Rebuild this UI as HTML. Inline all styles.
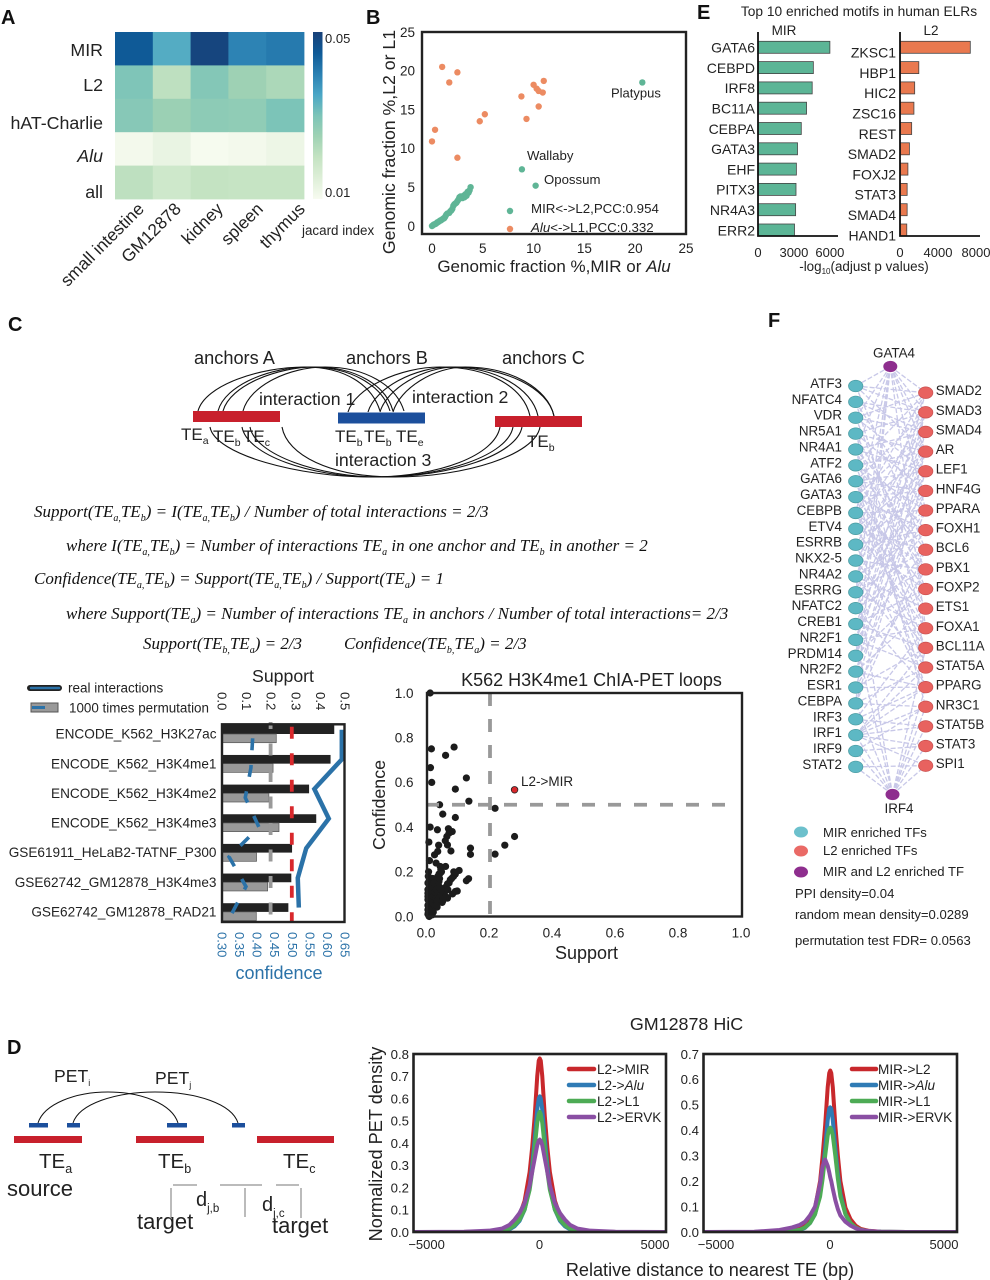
<!DOCTYPE html>
<html lang="en">
<head>
<meta charset="utf-8">
<title>TE interaction figure</title>
<style>
html,body{margin:0;padding:0;background:#fff;width:990px;height:1280px;overflow:hidden}
svg{display:block}
text{font-family:"Liberation Sans",sans-serif;fill:#222}
.serif{font-family:"Liberation Serif",serif;font-style:italic;font-size:17px;fill:#111}
.plabel{font-weight:bold;font-size:20px;fill:#111}
</style>
</head>
<body>
<svg id="fig" xmlns="http://www.w3.org/2000/svg" width="990" height="1280" viewBox="0 0 990 1280">
<defs>
<linearGradient id="cbar" x1="0" y1="1" x2="0" y2="0">
<stop offset="0" stop-color="#f7fbf0"/><stop offset=".125" stop-color="#deefd8"/><stop offset=".25" stop-color="#c4e3c2"/><stop offset=".375" stop-color="#9fd2b4"/><stop offset=".5" stop-color="#7cc4b8"/><stop offset=".625" stop-color="#4aa6c6"/><stop offset=".75" stop-color="#2a80b2"/><stop offset=".875" stop-color="#0f5a97"/><stop offset="1" stop-color="#184078"/>
</linearGradient>
<clipPath id="clipHicL"><rect x="413" y="1054" width="253" height="178"/></clipPath>
<clipPath id="clipHicR"><rect x="703" y="1054" width="254" height="178"/></clipPath>
</defs>
<rect x="0" y="0" width="990" height="1280" fill="#fff"/>

<text class="plabel" x="1" y="24">A</text>
<text class="plabel" x="366" y="24">B</text>
<text class="plabel" x="697" y="19">E</text>
<text class="plabel" x="8" y="331">C</text>
<text class="plabel" x="768" y="327">F</text>
<text class="plabel" x="7" y="1054">D</text>

<!-- Panel A -->
<g id="panelA"></g>
<rect x="313" y="32" width="9.5" height="167" fill="url(#cbar)"/>
<text x="325" y="43" font-size="13">0.05</text>
<text x="325" y="197" font-size="13">0.01</text>
<text x="302" y="235" font-size="13.4">jacard index</text>

<!-- Panel B -->
<g id="panelB"></g>
<text x="611" y="97.5" font-size="13">Platypus</text>
<text x="527" y="160" font-size="13.2">Wallaby</text>
<text x="544" y="184" font-size="13.2">Opossum</text>
<text x="531" y="213" font-size="13.3">MIR&lt;-&gt;L2,PCC:0.954</text>
<text x="531" y="232" font-size="13.3"><tspan font-style="italic">Alu</tspan>&lt;-&gt;L1,PCC:0.332</text>
<text x="554" y="272" font-size="17" text-anchor="middle">Genomic fraction %,MIR or <tspan font-style="italic">Alu</tspan></text>
<text transform="translate(395,142) rotate(-90)" font-size="17.7" text-anchor="middle">Genomic fraction %,L2 or L1</text>

<!-- Panel E -->
<g id="panelE"></g>
<text x="859" y="16" font-size="13.75" text-anchor="middle">Top 10 enriched motifs in human ELRs</text>
<text x="784" y="35" font-size="13.5" text-anchor="middle">MIR</text>
<text x="931" y="35" font-size="13.5" text-anchor="middle">L2</text>
<text x="864" y="271" font-size="13.4" text-anchor="middle">-log<tspan font-size="8" dy="3">10</tspan><tspan dy="-3">(adjust p values)</tspan></text>

<!-- Panel C diagram -->
<g fill="none" stroke="#111" stroke-width="1.1">
<path d="M198 411C205 385 260 367 305 367C345 367 372 385 380 411"/>
<path d="M218 411C225 385 270 367 310 367C350 367 382 385 390 411"/>
<path d="M223 411C230 385 278 367 315 367C355 367 386 385 393 411"/>
<path d="M243 411C250 385 290 367 325 367C365 367 396 385 404 411"/>
<path d="M348 412C355 388 400 367 440 367C490 367 524 388 530 416"/>
<path d="M368 412C375 388 415 367 450 367C495 367 532 388 538 416"/>
<path d="M380 412C387 388 425 367 455 367C505 367 548 388 554 416"/>
<path d="M393 412C400 388 435 367 465 367C510 367 548 388 554 416"/>
<path d="M210 427C215 455 300 477 370 477C440 477 495 455 500 427"/>
<path d="M242 427C247 455 310 477 375 477C445 477 508 455 513 427"/>
<path d="M250 427C255 455 320 477 380 477C450 477 517 455 522 427"/>
<path d="M282 427C287 455 330 477 395 477C465 477 535 455 540 427"/>
</g>
<rect x="193" y="411" width="87" height="11" fill="#c8202c"/>
<rect x="338" y="412.5" width="87" height="11" fill="#1c4f9c"/>
<rect x="495" y="416" width="87" height="11" fill="#c8202c"/>
<g font-size="17.7">
<text x="194" y="364" font-size="18.2">anchors A</text>
<text x="346" y="364" font-size="18.2">anchors B</text>
<text x="502" y="364" font-size="18.2">anchors C</text>
<text x="259" y="405">interaction 1</text>
<text x="412" y="403">interaction 2</text>
<text x="335" y="466">interaction 3</text>
<text x="181" y="440" font-size="17">TE<tspan font-size="10.5" dy="4">a</tspan></text>
<text x="213" y="442" font-size="17">TE<tspan font-size="10.5" dy="4">b</tspan></text>
<text x="243" y="442" font-size="17">TE<tspan font-size="10.5" dy="4">c</tspan></text>
<text x="335" y="442" font-size="17">TE<tspan font-size="10.5" dy="4">b</tspan></text>
<text x="364" y="442" font-size="17">TE<tspan font-size="10.5" dy="4">b</tspan></text>
<text x="396" y="442" font-size="17">TE<tspan font-size="10.5" dy="4">e</tspan></text>
<text x="527" y="447" font-size="17">TE<tspan font-size="10.5" dy="4">b</tspan></text>
</g>

<!-- Formulas -->
<text class="serif" x="34" y="517">Support(TE<tspan font-size="10" dy="4">a,</tspan><tspan dy="-4">TE</tspan><tspan font-size="10" dy="4">b</tspan><tspan dy="-4">) = I(TE</tspan><tspan font-size="10" dy="4">a,</tspan><tspan dy="-4">TE</tspan><tspan font-size="10" dy="4">b</tspan><tspan dy="-4">) / Number of total interactions = 2/3</tspan></text>
<text class="serif" x="66" y="551">where I(TE<tspan font-size="10" dy="4">a,</tspan><tspan dy="-4">TE</tspan><tspan font-size="10" dy="4">b</tspan><tspan dy="-4">) = Number of interactions TE</tspan><tspan font-size="10" dy="4">a</tspan><tspan dy="-4"> in one anchor and TE</tspan><tspan font-size="10" dy="4">b</tspan><tspan dy="-4"> in another = 2</tspan></text>
<text class="serif" x="34" y="584">Confidence(TE<tspan font-size="10" dy="4">a,</tspan><tspan dy="-4">TE</tspan><tspan font-size="10" dy="4">b</tspan><tspan dy="-4">) = Support(TE</tspan><tspan font-size="10" dy="4">a,</tspan><tspan dy="-4">TE</tspan><tspan font-size="10" dy="4">b</tspan><tspan dy="-4">) / Support(TE</tspan><tspan font-size="10" dy="4">a</tspan><tspan dy="-4">) = 1</tspan></text>
<text class="serif" x="66" y="619">where Support(TE<tspan font-size="10" dy="4">a</tspan><tspan dy="-4">) = Number of interactions TE</tspan><tspan font-size="10" dy="4">a</tspan><tspan dy="-4"> in anchors / Number of total interactions= 2/3</tspan></text>
<text class="serif" x="143" y="649">Support(TE<tspan font-size="10" dy="4">b,</tspan><tspan dy="-4">TE</tspan><tspan font-size="10" dy="4">a</tspan><tspan dy="-4">) = 2/3</tspan></text>
<text class="serif" x="344" y="649">Confidence(TE<tspan font-size="10" dy="4">b,</tspan><tspan dy="-4">TE</tspan><tspan font-size="10" dy="4">a</tspan><tspan dy="-4">) = 2/3</tspan></text>

<!-- Panel C bars -->
<g id="panelCBars"></g>
<text x="283" y="682" font-size="17.7" text-anchor="middle">Support</text>
<line x1="30" y1="688" x2="59" y2="688" stroke="#222" stroke-width="6" stroke-linecap="round"/>
<line x1="31" y1="688" x2="59" y2="688" stroke="#2b72a8" stroke-width="2.5" stroke-linecap="round"/>
<text x="68" y="692.5" font-size="13.5">real interactions</text>
<rect x="31" y="703" width="27" height="9" fill="#999" stroke="#555"/>
<line x1="32" y1="707.5" x2="45" y2="707.5" stroke="#2b72a8" stroke-width="3"/>
<text x="69" y="712.5" font-size="13.4">1000 times permutation</text>
<text x="279" y="979" font-size="18" style="fill:#2b72a8" text-anchor="middle">confidence</text>

<!-- Panel C scatter -->
<g id="panelCScatter"></g>
<text x="591.5" y="686" font-size="18" text-anchor="middle">K562 H3K4me1 ChIA-PET loops</text>
<text x="521" y="786" font-size="13.5">L2-&gt;MIR</text>
<text x="586.5" y="959" font-size="18" text-anchor="middle">Support</text>
<text transform="translate(385,805) rotate(-90)" font-size="17.8" text-anchor="middle">Confidence</text>

<!-- Panel F -->
<g id="panelF"></g>
<ellipse cx="801" cy="832" rx="7" ry="5.5" fill="#6cc0cc"/>
<ellipse cx="801" cy="851" rx="7" ry="5.5" fill="#ea6a66"/>
<ellipse cx="801" cy="872" rx="7" ry="5.5" fill="#8e2e8e"/>
<g font-size="13.1">
<text x="823" y="837">MIR enriched TFs</text>
<text x="823" y="855">L2 enriched TFs</text>
<text x="823" y="876">MIR and L2 enriched TF</text>
<text x="795" y="898">PPI density=0.04</text>
<text x="795" y="919">random mean density=0.0289</text>
<text x="795" y="945">permutation test FDR= 0.0563</text>
</g>

<!-- Panel D diagram -->
<g>
<rect x="14" y="1136" width="68" height="7" fill="#c8202c"/>
<rect x="136" y="1136" width="68" height="7" fill="#c8202c"/>
<rect x="257" y="1136" width="77" height="7" fill="#c8202c"/>
<rect x="29" y="1123" width="19" height="4.5" fill="#1c4f9c"/>
<rect x="67" y="1123" width="13" height="4.5" fill="#1c4f9c"/>
<rect x="167" y="1123" width="20" height="4.5" fill="#1c4f9c"/>
<rect x="232" y="1123" width="13" height="4.5" fill="#1c4f9c"/>
<path d="M38 1123C44 1104 75 1092 108 1092C142 1092 172 1104 178 1123" fill="none" stroke="#111" stroke-width="1"/>
<path d="M73 1123C79 1104 115 1092 155 1092C197 1092 232 1104 238 1123" fill="none" stroke="#111" stroke-width="1"/>
<text x="54" y="1082" font-size="17.6">PET<tspan font-size="9" dy="4">i</tspan></text>
<text x="155" y="1084" font-size="17.6">PET<tspan font-size="9" dy="4">j</tspan></text>
<text x="39" y="1168" font-size="20.5">TE<tspan font-size="12.5" dy="5">a</tspan></text>
<text x="158" y="1168" font-size="20.5">TE<tspan font-size="12.5" dy="5">b</tspan></text>
<text x="283" y="1168" font-size="20.5">TE<tspan font-size="12.5" dy="5">c</tspan></text>
<text x="7" y="1196" font-size="22">source</text>
<g stroke="#777" stroke-width="1">
<line x1="173" y1="1185" x2="197" y2="1185"/>
<line x1="220" y1="1185" x2="262" y2="1185"/>
<line x1="276" y1="1185" x2="299" y2="1185"/>
<line x1="171" y1="1188" x2="171" y2="1218"/>
<line x1="245" y1="1188" x2="245" y2="1217"/>
<line x1="301" y1="1188" x2="301" y2="1218"/>
</g>
<text x="196" y="1206" font-size="20">d<tspan font-size="11.5" dy="6">j,b</tspan></text>
<text x="262" y="1211" font-size="20">d<tspan font-size="11.5" dy="6">j,c</tspan></text>
<text x="137" y="1229" font-size="22">target</text>
<text x="272" y="1233" font-size="22">target</text>
</g>

<!-- Panel D HiC -->
<g id="panelD"></g>
<text x="686.5" y="1030" font-size="17.9" text-anchor="middle">GM12878 HiC</text>
<text x="710" y="1276" font-size="18.1" text-anchor="middle">Relative distance to nearest TE (bp)</text>
<text transform="translate(382,1144) rotate(-90)" font-size="18.2" text-anchor="middle">Normalized PET  density</text>
</svg>

<script>
/* ---------- Panel A data ---------- */
const heatRows = ['MIR', 'L2', 'hAT-Charlie', 'Alu', 'all'];
const heatCols = ['small intestine', 'GM12878', 'kidney', 'spleen', 'thymus'];
const heatValues = [
  [0.045, 0.034, 0.049, 0.0396, 0.0408],
  [0.0296, 0.0208, 0.0288, 0.0252, 0.0232],
  [0.0284, 0.0256, 0.0276, 0.0272, 0.03],
  [0.0108, 0.0128, 0.0102, 0.0108, 0.012],
  [0.0208, 0.018, 0.02, 0.0196, 0.0196]
];
/* ---------- Panel B data ---------- */
const bTicks = [0, 5, 10, 15, 20, 25];
const orangeX = [1, 2.5, 1.7, 10, 11, 10.9, 10.3, 10.5, 8.8, 10.5, 9.3, 5.2, 4.7, 0.3, 0, 2.5];
const orangeY = [20.5, 19.8, 18.5, 18.2, 18.7, 17.2, 17.7, 17.4, 16.7, 15.4, 13.8, 14.4, 13.5, 12.4, 10.9, 8.8];
const greenX = [20.7, 8.85, 10.2, 0, 0.1, 0.2, 0.3, 0.4, 0.5, 0.6, 0.7, 0.8, 0.9, 1, 1.1, 1.2, 1.3, 1.4, 1.5, 1.7, 1.8, 1.9, 2, 2.1, 2.2, 2.3, 2.4, 2.5, 2.6, 2.7, 2.8, 3, 3.1, 3.2, 3.3, 3.4, 3.5, 3.6, 3.7, 3.8];
const greenY = [18.5, 7.3, 5.2, 0, 0.1, 0.2, 0.25, 0.3, 0.45, 0.5, 0.6, 0.7, 0.75, 0.85, 0.95, 1, 1.2, 1.45, 1.6, 1.7, 1.9, 2, 2.2, 2.6, 2.8, 2.9, 3, 3.2, 3.4, 3.7, 3.8, 3.6, 3.9, 3.7, 4.1, 3.9, 4.4, 4.3, 4.6, 5];
/* ---------- Panel E data ---------- */
const mirMotifs = ['GATA6', 'CEBPD', 'IRF8', 'BC11A', 'CEBPA', 'GATA3', 'EHF', 'PITX3', 'NR4A3', 'ERR2'];
const mirValues = [6000, 4620, 4524, 4052, 3613, 3298, 3204, 3172, 3141, 3047];
const mirTicks = [0, 3000, 6000];
const l2Motifs = ['ZKSC1', 'HBP1', 'HIC2', 'ZSC16', 'REST', 'SMAD2', 'FOXJ2', 'STAT3', 'SMAD4', 'HAND1'];
const l2Values = [7400, 1980, 1545, 1466, 1228, 990, 832, 753, 753, 713];
const l2Ticks = [0, 4000, 8000];
/* ---------- Panel C bars data ---------- */
const datasets = ['ENCODE_K562_H3K27ac', 'ENCODE_K562_H3K4me1', 'ENCODE_K562_H3K4me2', 'ENCODE_K562_H3K4me3', 'GSE61911_HeLaB2-TATNF_P300', 'GSE62742_GM12878_H3K4me3', 'GSE62742_GM12878_RAD21'];
const realSupport = [0.455, 0.44, 0.353, 0.382, 0.284, 0.281, 0.269];
const permSupport = [0.22, 0.207, 0.19, 0.231, 0.14, 0.185, 0.139];
const realConfidence = [0.64, 0.64, 0.562, 0.603, 0.539, 0.515, 0.518];
const permConfidence = [0.387, 0.382, 0.366, 0.405, 0.32, 0.368, 0.324];
const supportTicks = ['0.0', '0.1', '0.2', '0.3', '0.4', '0.5'];
const confidenceTicks = ['0.30', '0.35', '0.40', '0.45', '0.50', '0.55', '0.60', '0.65'];
const supportThresholdRed = 0.283;
const supportThresholdGray = 0.197;
/* ---------- Panel C scatter data ---------- */
const loopSupport = [.014,.086,.059,.011,.015,.125,.09,.133,.04,.216,.05,.09,.01,.033,.068,.08,.07,.063,.058,.065,.076,.037,.034,.024,.006,.138,.138,.216,.247,.278,.008,.029,.042,.059,.005,.102,.09,.132,.125,.084,.074,.065,.058,.09,.081,.042,.034,.038,.026,.036,.013,.007,.053,.065,.048,.032,.019,.005,.011,.016,.003,.003,.021,.042,.026,.004,.007,.01,.012,.028,.045,.022,.016,.03,.008,.018,.003,.003,.003,.003,.003,.003,.004,.006,.006,.006,.008,.008,.01,.01,.012,.012,.014,.015,.018,.02,.02,.022,.024,.025,.028,.03,.032,.034,.036,.038,.04,.044,.046,.04,.03,.06,.066,.07,.078,.085,.096,.05];
const loopConfidence = [.75,.758,.721,.666,.6,.62,.57,.516,.5,.484,.458,.443,.4,.388,.393,.38,.373,.358,.339,.32,.293,.319,.291,.276,.333,.306,.278,.279,.319,.358,.25,.239,.224,.224,.2,.206,.19,.169,.16,.179,.164,.146,.13,.112,.101,.194,.179,.157,.134,.119,.164,.119,.104,.082,.063,.042,.075,.045,.022,.007,.075,.104,.104,.09,.067,.015,0,1,.135,.15,.12,.05,.035,.09,.08,.17,.01,.03,.05,.09,.12,.15,.18,.02,.06,.1,.04,.14,.02,.08,.05,.11,.03,.13,.06,.02,.09,.15,.05,.11,.08,.12,.07,.16,.14,.19,.17,.21,.2,.13,.05,.09,.12,.15,.17,.2,.114,.07];
const highlightSupport = [0.278];
const highlightConfidence = [0.567];
const scatterTicks = ['0.0', '0.2', '0.4', '0.6', '0.8', '1.0'];
/* ---------- Panel F data ---------- */
const leftTFs = ['ATF3','NFATC4','VDR','NR5A1','NR4A1','ATF2','GATA6','GATA3','CEBPB','ETV4','ESRRB','NKX2-5','NR4A2','ESRRG','NFATC2','CREB1','NR2F1','PRDM14','NR2F2','ESR1','CEBPA','IRF3','IRF1','IRF9','STAT2'];
const rightTFs = ['SMAD2','SMAD3','SMAD4','AR','LEF1','HNF4G','PPARA','FOXH1','BCL6','PBX1','FOXP2','ETS1','FOXA1','BCL11A','STAT5A','PPARG','NR3C1','STAT5B','STAT3','SPI1'];
const edgeLeft  = [0,0,0,0,1,1,1,1,2,2,2,2,3,3,3,3,3,4,4,4,4,4,5,5,5,5,5,6,6,6,6,6,6,7,7,7,7,7,8,8,8,8,8,8,9,9,9,9,10,10,10,10,10,11,11,11,11,12,12,12,12,12,13,13,13,13,14,14,14,14,15,15,15,15,16,16,16,16,16,17,17,17,18,18,18,18,19,19,19,19,20,20,20,20,21,21,21,22,22,22,22,22,22,22,23,23,24];
const edgeRight = [0,1,3,8,1,2,6,12,0,2,4,10,1,3,5,9,14,2,4,7,11,16,0,3,6,8,13,1,4,5,9,12,15,2,5,7,10,14,0,3,6,9,11,13,1,4,8,12,2,5,7,10,15,3,6,9,13,0,4,7,11,14,1,5,8,12,2,6,9,15,3,7,10,13,0,4,8,12,14,1,5,10,2,6,11,15,3,9,13,15,4,8,14,16,12,15,17,13,14,15,16,17,18,19,16,18,19];
const gata4Left = [0, 2, 4, 8, 13, 17, 20];
const gata4Right = [0, 1, 2, 3, 6, 12];
const irf4Left = [12, 16, 20, 22, 23, 24];
const irf4Right = [13, 15, 16, 17, 18, 19];
/* ---------- Panel D data ---------- */
const hicX = [-5000,-3000,-2000,-1500,-1200,-1000,-800,-600,-400,-300,-200,-100,-40,0,40,100,200,300,400,600,800,1000,1200,1500,2000,3000,5000];
const l2Names = ['L2->MIR', 'L2->Alu', 'L2->L1', 'L2->ERVK'];
const l2ToMir  = [0,0,.002,.008,.02,.04,.075,.14,.27,.38,.52,.7,.77,.78,.77,.7,.52,.38,.27,.14,.075,.04,.02,.008,.002,0,0];
const l2ToAlu  = [0,0,.001,.004,.012,.025,.05,.1,.2,.3,.42,.55,.6,.61,.6,.55,.42,.3,.2,.1,.05,.025,.012,.004,.001,0,0];
const l2ToL1   = [0,0,.001,.005,.015,.03,.055,.1,.19,.27,.38,.49,.53,.54,.53,.49,.38,.27,.19,.1,.055,.03,.015,.005,.001,0,0];
const l2ToErvk = [0,.001,.006,.015,.032,.055,.085,.13,.21,.27,.33,.39,.41,.415,.41,.39,.33,.27,.21,.13,.085,.055,.032,.015,.006,.001,0];
const mirNames = ['MIR->L2', 'MIR->Alu', 'MIR->L1', 'MIR->ERVK'];
const mirToL2   = [0,0,.001,.005,.012,.025,.05,.095,.2,.3,.42,.57,.625,.635,.625,.57,.42,.3,.2,.095,.05,.025,.012,.005,.001,0,0];
const mirToAlu  = [0,0,.001,.003,.008,.016,.035,.07,.15,.23,.33,.44,.485,.49,.485,.44,.33,.23,.15,.07,.035,.016,.008,.003,.001,0,0];
const mirToL1   = [0,0,.001,.003,.009,.018,.035,.07,.14,.21,.3,.38,.405,.41,.405,.38,.3,.21,.14,.07,.035,.018,.009,.003,.001,0,0];
const mirToErvk = [0,.001,.008,.018,.028,.04,.065,.1,.19,.26,.285,.26,.235,.215,.2,.17,.125,.09,.065,.04,.025,.015,.008,.004,.001,0,0];
const hicLeftYTicks = ['0.0','0.1','0.2','0.3','0.4','0.5','0.6','0.7','0.8'];
const hicRightYTicks = ['0.0','0.1','0.2','0.3','0.4','0.5','0.6','0.7'];
const hicXTicks = ['\u22125000', '0', '5000'];

/* ---------- helpers ---------- */
const NS = 'http://www.w3.org/2000/svg';
function mk(tag, attrs, parent, content) {
  const el = document.createElementNS(NS, tag);
  for (const k in attrs) el.setAttribute(k, attrs[k]);
  if (content !== undefined) el.textContent = content;
  parent.appendChild(el);
  return el;
}
function lerp(a, b, t) { return a + (b - a) * t; }
const ramp = [[247,251,240],[222,239,216],[196,227,194],[159,210,180],[124,196,184],[74,166,198],[42,128,178],[15,90,151],[24,64,120]];
function heatColor(v) {
  const t = Math.max(0, Math.min(1, (v - 0.01) / 0.04)) * (ramp.length - 1);
  const i = Math.min(ramp.length - 2, Math.floor(t));
  const f = t - i;
  const c = ramp[i].map((a, k) => Math.round(lerp(a, ramp[i + 1][k], f)));
  return 'rgb(' + c.join(',') + ')';
}
function cssId(s) { return s.toLowerCase().replace(/[^a-z0-9]+/g, '-'); }

/* ---------- Panel A ---------- */
(function () {
  const g = document.getElementById('panelA');
  const cx = i => 115 + i * 37.8;
  const ry = j => 32 + j * 33.4;
  const rowLabelY = [56, 91, 129, 162, 198];
  heatValues.forEach((row, j) => {
    row.forEach((v, i) => {
      const el = mk('rect', { x: cx(i), y: ry(j), width: 38.2, height: 33.8, fill: heatColor(v) }, g);
      
      
    });
    const lab = mk('text', { x: 103, y: rowLabelY[j], 'font-size': 17.8, 'text-anchor': 'end' }, g, heatRows[j]);
    if (heatRows[j] === 'Alu') lab.setAttribute('font-style', 'italic');
    
    
  });
  const ends = [145, 182, 224, 264, 306];
  heatCols.forEach((c, i) => {
    const t = mk('text', { transform: 'translate(' + ends[i] + ',210) rotate(-45)', 'font-size': 17.3, 'text-anchor': 'end' }, g, c);
    
    
  });
})();

/* ---------- Panel B ---------- */
(function () {
  const g = document.getElementById('panelB');
  const bx = v => 432 + v * 10.16;
  const by = v => 226 - v * 7.76;
  orangeX.forEach((x, i) => {
    const el = mk('circle', { cx: bx(x), cy: by(orangeY[i]), r: 3.2, fill: '#ec8b62' }, g);
    
    
  });
  greenX.forEach((x, i) => {
    const el = mk('circle', { cx: bx(x), cy: by(greenY[i]), r: 3.2, fill: '#5fb596' }, g);
    
    
  });
  const l1 = mk('circle', { cx: 510, cy: 211, r: 3.2, fill: '#5fb596' }, g);
  
  
  const l2 = mk('circle', { cx: 510, cy: 229, r: 3.2, fill: '#ec8b62' }, g);
  
  
  const fr = mk('rect', { x: 422, y: 32, width: 264, height: 202, fill: 'none', stroke: '#222', 'stroke-width': 2.4 }, g);
  
  
  bTicks.forEach(v => {
    const tx = mk('text', { x: bx(v), y: 253, 'font-size': 13.5, 'text-anchor': 'middle' }, g, v);
    
    
    const ty = mk('text', { x: 415, y: by(v) + 4.8, 'font-size': 13.5, 'text-anchor': 'end' }, g, v);
    
    
  });
})();

/* ---------- Panel E ---------- */
(function () {
  const g = document.getElementById('panelE');
  const lx = v => 758 + v * 0.01198;
  const rx = v => 900 + v * 0.0095;
  const rowY = i => 47.3 + i * 20.3;
  mirValues.forEach((v, i) => {
    const b = mk('rect', { x: lx(0), y: rowY(i) - 6, width: lx(v) - lx(0), height: 12, fill: '#5cb596', stroke: '#444', 'stroke-width': 0.8 }, g);
    
    
    const t = mk('text', { x: 755, y: rowY(i) + 5.3, 'font-size': 14, 'text-anchor': 'end' }, g, mirMotifs[i]);
    
    
  });
  l2Values.forEach((v, i) => {
    const b = mk('rect', { x: rx(0), y: rowY(i) - 6, width: rx(v) - rx(0), height: 12, fill: '#e9794f', stroke: '#444', 'stroke-width': 0.8 }, g);
    
    
    const t = mk('text', { x: 896, y: rowY(i) + 10.3, 'font-size': 14, 'text-anchor': 'end' }, g, l2Motifs[i]);
    
    
  });
  const a1 = mk('path', { d: 'M758 32V236H838', fill: 'none', stroke: '#111', 'stroke-width': 1.8 }, g);
  
  
  const a2 = mk('path', { d: 'M900 32V236H980', fill: 'none', stroke: '#111', 'stroke-width': 1.8 }, g);
  
  
  mirTicks.forEach(v => {
    const t = mk('text', { x: lx(v), y: 257, 'font-size': 13, 'text-anchor': 'middle' }, g, v);
    
    
  });
  l2Ticks.forEach(v => {
    const t = mk('text', { x: rx(v), y: 257, 'font-size': 13, 'text-anchor': 'middle' }, g, v);
    
    
  });
})();

/* ---------- Panel C bars ---------- */
(function () {
  const g = document.getElementById('panelCBars');
  const sx = v => 222 + v * 246.7;
  const cx = v => 222 + (v - 0.3) * 352.4;
  const barY = i => 725.3 + i * 29.65;
  const blue = '#2b72a8';
  datasets.forEach((d, i) => {
    const b = mk('rect', { x: sx(0), y: barY(i), width: sx(realSupport[i]) - sx(0), height: 8.7, fill: '#222' }, g);
    
    
    const p = mk('rect', { x: sx(0), y: barY(i) + 8.7, width: sx(permSupport[i]) - sx(0), height: 8.7, fill: '#999', stroke: '#555', 'stroke-width': 0.7 }, g);
    
    
    const t = mk('text', { x: 216.5, y: barY(i) + 13.3, 'font-size': 13.6, 'text-anchor': 'end' }, g, d);
    
    
  });
  const gv = mk('line', { x1: sx(supportThresholdGray), y1: 722, x2: sx(supportThresholdGray), y2: 922, stroke: '#999', 'stroke-width': 3.8, 'stroke-dasharray': '12 14.5', 'stroke-dashoffset': 5 }, g);
  
  
  const rv = mk('line', { x1: sx(supportThresholdRed), y1: 726.7, x2: sx(supportThresholdRed), y2: 922, stroke: '#d8282c', 'stroke-width': 3.8, 'stroke-dasharray': '12 14.5' }, g);
  
  
  const pp = permConfidence.map((v, i) => cx(v) + ',' + (barY(i) + 13)).join(' ');
  const dl = mk('polyline', { points: pp, fill: 'none', stroke: blue, 'stroke-width': 3.6, 'stroke-dasharray': '12 14.7' }, g);
  
  
  const rp = realConfidence.map((v, i) => cx(v) + ',' + (barY(i) + 4.4)).join(' ');
  const rl = mk('polyline', { points: rp, fill: 'none', stroke: blue, 'stroke-width': 4.5, 'stroke-linejoin': 'miter' }, g);
  
  
  const fr = mk('rect', { x: 222, y: 724.3, width: 122.5, height: 197.7, fill: 'none', stroke: '#222', 'stroke-width': 2.4 }, g);
  
  
  supportTicks.forEach(s => {
    const t = mk('text', { transform: 'translate(' + (sx(+s) - 4.7) + ',692) rotate(90)', 'font-size': 13.2 }, g, s);
    
    
  });
  confidenceTicks.forEach(s => {
    const t = mk('text', { transform: 'translate(' + (cx(+s) - 4.7) + ',932) rotate(90)', 'font-size': 13, style: 'fill:' + blue }, g, s);
    
    
  });
})();

/* ---------- Panel C scatter ---------- */
(function () {
  const g = document.getElementById('panelCScatter');
  const sx = v => 427 + v * 315;
  const sy = v => 916.5 - v * 223.5;
  loopSupport.forEach((v, i) => {
    const c = mk('circle', { cx: sx(v), cy: sy(loopConfidence[i]), r: 3.6, fill: '#1c1c1c' }, g);
    
    
  });
  const vl = mk('line', { x1: sx(0.2), y1: 693, x2: sx(0.2), y2: 917, stroke: '#999', 'stroke-width': 3.8, 'stroke-dasharray': '13 13' }, g);
  
  
  const hl = mk('line', { x1: 427, y1: sy(0.5), x2: 736, y2: sy(0.5), stroke: '#999', 'stroke-width': 3.8, 'stroke-dasharray': '13 13', 'stroke-dashoffset': 1 }, g);
  
  
  highlightSupport.forEach((v, i) => {
    const c = mk('circle', { cx: sx(v), cy: sy(highlightConfidence[i]), r: 3.3, fill: '#d8282c', stroke: '#222', 'stroke-width': 0.8 }, g);
    
    
  });
  const fr = mk('rect', { x: 427, y: 693, width: 315, height: 223.5, fill: 'none', stroke: '#222', 'stroke-width': 2.4 }, g);
  
  
  scatterTicks.forEach(s => {
    const tx = mk('text', { x: sx(+s) - 1, y: 937.5, 'font-size': 13.5, 'text-anchor': 'middle' }, g, s);
    
    
    const ty = mk('text', { x: 413.5, y: sy(+s) + 4.8, 'font-size': 13.5, 'text-anchor': 'end' }, g, s);
    
    
  });
})();

/* ---------- Panel F ---------- */
(function () {
  const g = document.getElementById('panelF');
  const lY = i => 386 + i * 15.87;
  const rY = i => 392.7 + i * 19.63;
  const LX = 855.7, RX = 925.7;
  const gata = [890.3, 366.5], irf = [892.5, 794.5];
  function edge(x1, y1, x2, y2) {
    return mk('line', { x1: x1, y1: y1, x2: x2, y2: y2, stroke: '#c8c8e8', 'stroke-width': 1.3, 'stroke-dasharray': '5 2' }, g);
  }
  edgeLeft.forEach((l, i) => {
    const e = edge(LX, lY(l), RX, rY(edgeRight[i]));
    
    
  });
  gata4Left.forEach(l => {
    const e = edge(gata[0], gata[1], LX, lY(l));
    
    
  });
  gata4Right.forEach(r => {
    const e = edge(gata[0], gata[1], RX, rY(r));
    
    
  });
  irf4Left.forEach(l => {
    const e = edge(irf[0], irf[1], LX, lY(l));
    
    
  });
  irf4Right.forEach(r => {
    const e = edge(irf[0], irf[1], RX, rY(r));
    
    
  });
  leftTFs.forEach((n, i) => {
    const c = mk('ellipse', { cx: LX, cy: lY(i), rx: 7.2, ry: 5.8, fill: '#5db8c4', stroke: '#4a9aa0', 'stroke-width': 0.7 }, g);
    
    
    const t = mk('text', { x: 842, y: lY(i) + 2, 'font-size': 13.4, 'text-anchor': 'end' }, g, n);
    
    
  });
  rightTFs.forEach((n, i) => {
    const c = mk('ellipse', { cx: RX, cy: rY(i), rx: 7.2, ry: 5.8, fill: '#e8625f', stroke: '#c85050', 'stroke-width': 0.7 }, g);
    
    
    const t = mk('text', { x: 935.7, y: rY(i) + 2.5, 'font-size': 13.4 }, g, n);
    
    
  });
  const gn = mk('ellipse', { cx: gata[0], cy: gata[1], rx: 7, ry: 5.6, fill: '#8e2e8e' }, g);
  
  
  const gt = mk('text', { x: 894, y: 357.5, 'font-size': 13.4, 'text-anchor': 'middle' }, g, 'GATA4');
  
  
  const ir = mk('ellipse', { cx: irf[0], cy: irf[1], rx: 7, ry: 5.6, fill: '#8e2e8e' }, g);
  
  
  const it = mk('text', { x: 899, y: 813, 'font-size': 13.4, 'text-anchor': 'middle' }, g, 'IRF4');
  
  
})();

/* ---------- Panel D ---------- */
(function () {
  const g = document.getElementById('panelD');
  const colors = ['#c8282c', '#2f7bb5', '#4dab55', '#8a4fa3'];
  const panels = [
    { x0: 413.5, x1: 666, ymax: 0.8, series: [l2ToMir, l2ToAlu, l2ToL1, l2ToErvk], names: l2Names, ticks: hicLeftYTicks, tickX: 409, clip: 'clipHicL', legX: 569, legX2: 594, txtX: 597, tickPos: [426.6, 539.5, 655] },
    { x0: 703.5, x1: 957, ymax: 0.7, series: [mirToL2, mirToAlu, mirToL1, mirToErvk], names: mirNames, ticks: hicRightYTicks, tickX: 699, clip: 'clipHicR', legX: 852, legX2: 876, txtX: 878, tickPos: [716, 830, 944] }
  ];
  const legY = [1069, 1085, 1101, 1117];
  panels.forEach(p => {
    const px = v => p.x0 + (v + 5000) / 10000 * (p.x1 - p.x0);
    const py = v => 1232 - v / p.ymax * 178;
    p.series.forEach((vals, s) => {
      const pts = vals.map((v, i) => px(hicX[i]) + ',' + py(v)).join(' ');
      const l = mk('polyline', { points: pts, fill: 'none', stroke: colors[s], 'stroke-width': 4, 'stroke-linejoin': 'round', 'clip-path': 'url(#' + p.clip + ')' }, g);
      
      
      const k = mk('line', { x1: p.legX, y1: legY[s], x2: p.legX2, y2: legY[s], stroke: colors[s], 'stroke-width': 4.5, 'stroke-linecap': 'round' }, g);
      
      
      const t = mk('text', { x: p.txtX, y: legY[s] + 4.8, 'font-size': 13.6 }, g);
      const parts = p.names[s].split('Alu');
      t.appendChild(document.createTextNode(parts[0]));
      if (parts.length > 1) {
        mk('tspan', { 'font-style': 'italic' }, t, 'Alu');
      }
      
      
    });
    const fr = mk('rect', { x: p.x0, y: 1054, width: p.x1 - p.x0, height: 178, fill: 'none', stroke: '#222', 'stroke-width': 2.6 }, g);
    
    
    p.ticks.forEach(s => {
      const t = mk('text', { x: p.tickX, y: py(+s) + 4.8, 'font-size': 13.2, 'text-anchor': 'end' }, g, s);
      
      
    });
    hicXTicks.forEach((s, i) => {
      const t = mk('text', { x: p.tickPos[i], y: 1249, 'font-size': 13, 'text-anchor': 'middle' }, g, s);
      
      
    });
  });
})();
</script>
</body>
</html>
